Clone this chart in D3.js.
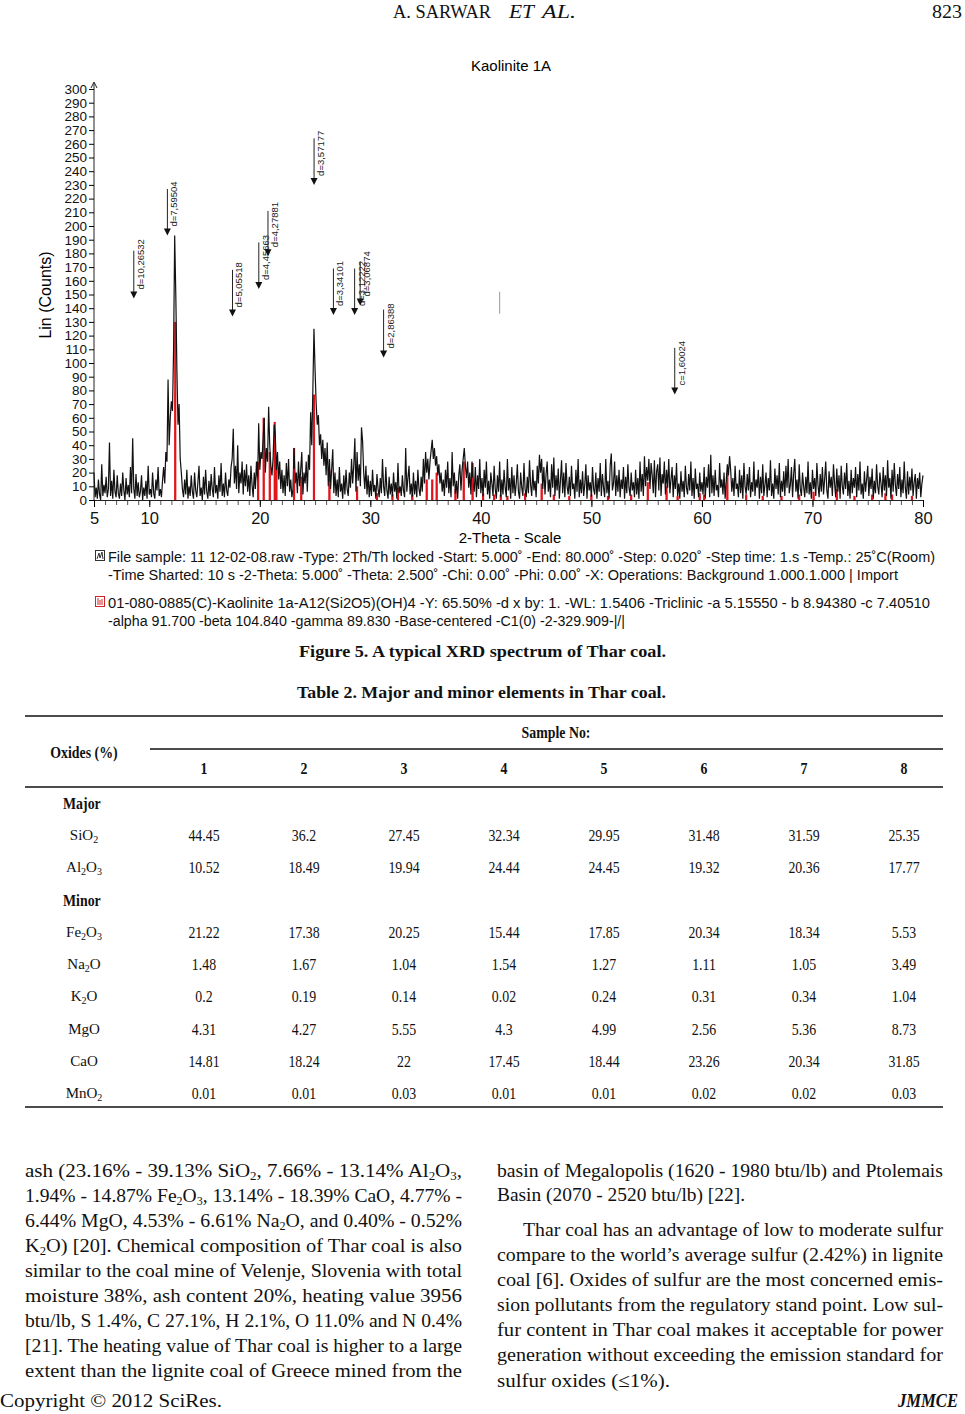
<!DOCTYPE html>
<html>
<head>
<meta charset="utf-8">
<script src="https://cdn.jsdelivr.net/npm/d3@7"></script>
<style>
	body { margin:0; background:#fff; }
	svg { display:block; }
</style>
</head>
<body>
<script>

	// ---- chart data (counts every 0.1 deg, 5 .. 80)
	var two_theta_start = 5, two_theta_step = 0.1;
	var counts = [
		20,2,9,1,15,4,0,26,3,11, 5,17,2,8,42,3,14,1,22,6, 2,18,5,1,12,3,20,7,0,16, 4,11,2,24,5,45,8,1,19,3,
		13,2,6,18,0,9,3,14,1,25, 4,8,2,20,5,1,15,7,24,3, 8,2,14,24,12,35,28,88,40,60, 72,65,110,193,150,95,55,70,30,20,
		8,2,15,4,22,1,10,3,18,6, 1,20,7,2,13,25,3,9,0,17, 4,22,6,1,14,3,19,8,2,24, 5,11,1,18,6,27,3,12,2,20,
		7,3,15,9,24,30,52,12,25,8, 40,5,20,12,28,4,22,10,26,6, 18,3,25,11,2,20,8,28,14,56, 22,35,30,45,60,20,38,28,68,40,
		25,18,30,55,48,22,35,15,28,8, 22,5,18,3,27,10,30,6,15,2, 8,38,12,20,5,28,10,22,35,4, 20,12,28,6,33,22,64,40,80,125,
		95,70,55,62,40,48,30,44,25,38, 18,42,10,30,8,22,37,5,20,3, 15,2,24,6,12,1,18,4,22,8, 3,20,9,30,12,25,45,6,35,14,
		26,10,53,43,20,8,25,4,18,2, 14,3,22,6,11,1,19,8,2,16, 5,30,10,3,24,7,1,17,4,12, 2,20,6,13,1,27,5,10,3,18,
		7,2,38,6,16,25,4,12,1,20, 4,14,2,22,8,3,17,6,30,12, 35,20,30,15,28,36,44,30,38,25, 32,18,26,12,20,6,15,3,22,9,
		28,5,16,2,35,10,20,4,14,1, 18,26,7,22,30,38,25,16,28,9, 20,4,28,12,6,24,2,18,8,30, 5,16,2,22,9,28,4,14,1,20,
		12,3,25,8,1,18,6,28,2,15, 4,22,9,2,30,7,16,1,24,5, 18,3,12,26,6,1,20,9,3,27, 8,2,17,5,29,11,3,22,7,14,
		2,25,12,33,20,30,8,24,4,19, 28,6,15,2,26,9,31,3,18,7, 23,1,14,29,5,20,2,27,10,4, 17,3,25,8,12,1,22,6,30,2,
		15,5,21,3,11,26,1,18,7,13, 2,24,8,4,20,1,16,6,27,3, 19,9,2,30,5,14,1,25,34,7, 12,28,3,18,6,22,2,15,8,24,
		1,17,5,26,9,3,20,7,13,2, 22,4,16,1,28,6,19,3,32,10, 24,14,30,8,27,18,5,29,2,21, 26,7,31,3,19,12,28,4,22,9,
		30,5,15,24,2,18,8,27,3,12, 1,21,6,14,2,25,9,4,19,7, 28,3,16,1,23,8,12,2,20,6, 13,4,24,1,17,9,26,2,33,5,
		18,3,22,7,11,2,27,9,15,4, 20,1,14,26,18,32,22,6,16,3, 25,8,12,2,22,5,18,1,27,10, 4,19,7,24,2,13,6,28,3,15,
		9,22,1,17,5,26,3,11,20,2, 16,7,29,3,12,1,23,8,18,4, 27,2,14,6,21,3,25,9,30,5, 11,24,2,19,30,6,15,1,26,8,
		3,20,10,2,17,5,28,4,13,1, 22,8,16,3,27,11,2,19,6,24, 4,15,28,7,1,21,9,17,3,26, 12,2,23,6,18,1,25,10,4,20,
		8,27,3,14,1,22,5,16,9,24, 2,19,7,28,4,12,1,21,6,15, 25,3,17,8,23,1,14,5,26,10, 4,20,12,2,24,7,18,3,29,9,
		16,1,22,6,27,11,3,19,8,24, 2,15,5,28,9,1,21,4,17,7, 23,3,13,19,1,16,8,20,2,12, 18
	];

	// reference pattern (kaolinite sticks, red)
	var ref_theta  = [12.35, 19.85, 20.35, 20.9, 21.35, 21.5, 23.1, 23.75, 24.9, 26.3, 28.8, 30.6, 32.0, 32.5, 33.8, 35.1, 35.6, 36.0, 37.7,
		38.45, 39.25, 40.2, 41.2, 41.8, 42.4, 44.0, 45.5, 46.6, 48.0, 50.0, 51.5, 53.6, 55.1, 56.8, 57.8, 59.8, 60.2, 62.3, 64.0,
		65.5, 67.2, 68.8, 70.1, 72.2, 73.8, 75.4, 76.6, 77.2, 79.0];
	var ref_counts = [130, 28, 60, 35, 57, 30, 38, 17, 77, 22, 10, 5, 4, 9, 4, 15, 15, 20, 8,
		28, 27, 5, 4, 4, 3, 5, 12, 4, 3, 4, 3, 4, 13, 10, 3, 5, 4, 20, 4,
		3, 3, 4, 6, 8, 3, 4, 5, 4, 3];

	// peak markers: label, 2-theta, arrow top (counts), arrow tip (counts)
	var marker_labels = ["d=10,26532", "d=7,59504", "d=5,05518", "d=4,45663", "d=4,27881", "d=3,57177", "d=3,34101", "d=3,12222", "d=3,06874", "d=2,86388", "c=1,60024"];
	var marker_theta  = [8.6, 11.64, 17.53, 19.91, 20.74, 24.91, 26.66, 28.58, 29.08, 31.2, 57.54];
	var marker_top    = [182, 227, 168, 188, 211, 264, 169, 169, 174, 139, 111];
	var marker_tip    = [147, 193, 134, 154, 178, 230, 135, 135, 142, 104, 77];

	var y_ticks = d3.range(0, 301, 10);
	var x_ticks = [5, 10, 20, 30, 40, 50, 60, 70, 80];

	var legend_lines = [
		"File sample: 11 12-02-08.raw -Type:  2Th/Th locked -Start: 5.000˚ -End: 80.000˚ -Step: 0.020˚ -Step time: 1.s -Temp.: 25˚C(Room)",
		"-Time Sharted: 10 s -2-Theta: 5.000˚ -Theta: 2.500˚ -Chi: 0.00˚  -Phi: 0.00˚ -X: Operations: Background 1.000.1.000 | Import",
		"01-080-0885(C)-Kaolinite 1a-A12(Si2O5)(OH)4 -Y: 65.50% -d x by: 1. -WL: 1.5406 -Triclinic -a 5.15550 - b 8.94380 -c 7.40510",
		"-alpha 91.700 -beta 104.840 -gamma 89.830 -Base-centered -C1(0) -2-329.909-|/|"
	];

	// ---- table data
	var sample_nos = [1, 2, 3, 4, 5, 6, 7, 8];
	var major_oxides = ["SiO_{2}", "Al_{2}O_{3}"];
	var major_values = [
		[44.45, 36.2, 27.45, 32.34, 29.95, 31.48, 31.59, 25.35],
		[10.52, 18.49, 19.94, 24.44, 24.45, 19.32, 20.36, 17.77]
	];
	var minor_oxides = ["Fe_{2}O_{3}", "Na_{2}O", "K_{2}O", "MgO", "CaO", "MnO_{2}"];
	var minor_values = [
		[21.22, 17.38, 20.25, 15.44, 17.85, 20.34, 18.34, 5.53],
		[1.48, 1.67, 1.04, 1.54, 1.27, 1.11, 1.05, 3.49],
		[0.2, 0.19, 0.14, 0.02, 0.24, 0.31, 0.34, 1.04],
		[4.31, 4.27, 5.55, 4.3, 4.99, 2.56, 5.36, 8.73],
		[14.81, 18.24, 22, 17.45, 18.44, 23.26, 20.34, 31.85],
		[0.01, 0.01, 0.03, 0.01, 0.01, 0.02, 0.02, 0.03]
	];

	// ---- body text
	var left_lines = [
		"ash  (23.16% - 39.13% SiO_{2}, 7.66% - 13.14% Al_{2}O_{3},",
		"1.94% - 14.87% Fe_{2}O_{3}, 13.14% - 18.39% CaO, 4.77% -",
		"6.44% MgO, 4.53% - 6.61% Na_{2}O, and 0.40% - 0.52%",
		"K_{2}O) [20]. Chemical composition of Thar coal is also",
		"similar to the coal mine of Velenje, Slovenia with total",
		"moisture 38%, ash content 20%, heating value 3956",
		"btu/lb, S 1.4%, C 27.1%, H 2.1%, O 11.0% and N 0.4%",
		"[21]. The heating value of Thar coal is higher to a large",
		"extent than the lignite coal of Greece mined from the"
	];
	var right_lines = [
		"basin of Megalopolis (1620 - 1980 btu/lb) and Ptolemais",
		"Basin (2070 - 2520 btu/lb) [22].",
		"Thar coal has an advantage of low to moderate sulfur",
		"compare to the world’s average sulfur (2.42%) in lignite",
		"coal [6]. Oxides of sulfur are the most concerned emis-",
		"sion pollutants from the regulatory stand point. Low sul-",
		"fur content in Thar coal makes it acceptable for power",
		"generation without exceeding the emission standard for",
		"sulfur oxides (≤1%)."
	];


	var page = (function(){

		var svg = d3.select("body").append("svg").attr("width", 965).attr("height", 1414);
		var sans = "'Liberation Sans', Arial, sans-serif";
		var serif = "'Liberation Serif', 'Times New Roman', serif";

		// writes "X_{2}" style strings as text with lowered subscripts
		function rich(text_sel, str, sub_size, drop){
			var parts = str.split(/(_\{[^}]*\})/);
			var lowered = false;
			drop = drop || 4;
			parts.forEach(function(p){
				if(!p){ return; }
				var m = p.match(/^_\{([^}]*)\}$/);
				var t = text_sel.append("tspan");
				if(m){
					t.text(m[1]).attr("font-size", sub_size).attr("dy", lowered ? 0 : drop);
					lowered = true;
				} else {
					t.text(p).attr("dy", lowered ? -drop : 0);
					lowered = false;
				}
			});
			return text_sel;
		}

		// narrow the glyphs of a text to look like the condensed print face
		function condense(text_sel, factor){
			text_sel.each(function(){
				var w = this.getComputedTextLength();
				d3.select(this).attr("textLength", w * factor).attr("lengthAdjust", "spacingAndGlyphs");
			});
			return text_sel;
		}

		function header(){
			var g = svg.append("g").attr("font-family", serif).attr("font-size", 18).attr("fill", "#111");
			g.append("text").attr("x", 393).attr("y", 18).attr("textLength", 98).attr("lengthAdjust", "spacingAndGlyphs").text("A. SARWAR");
			g.append("text").attr("x", 509).attr("y", 18).attr("font-style", "italic").attr("textLength", 25).attr("lengthAdjust", "spacingAndGlyphs").text("ET");
			g.append("text").attr("x", 542).attr("y", 18).attr("font-style", "italic").attr("textLength", 34).attr("lengthAdjust", "spacingAndGlyphs").text("AL.");
			g.append("text").attr("x", 962).attr("y", 18).attr("text-anchor", "end").attr("textLength", 30).attr("lengthAdjust", "spacingAndGlyphs").text("823");
		}

		function chart(){
			var x = d3.scaleLinear().domain([5, 80]).range([94, 923]);
			var y = d3.scaleLinear().domain([0, 300]).range([500, 89]);
			var g = svg.append("g").attr("font-family", sans);

			g.append("text").attr("x", 511).attr("y", 71).attr("text-anchor", "middle").attr("font-size", 15).text("Kaolinite 1A");

			// reference sticks under the scan
			g.append("g").selectAll("line").data(ref_theta).enter().append("line")
				.attr("x1", function(d){ return x(d); }).attr("x2", function(d){ return x(d); })
				.attr("y1", y(0)).attr("y2", function(d, i){ return y(ref_counts[i]); })
				.attr("stroke", "#e3141c").attr("stroke-width", 2.2);

			var line = d3.line()
				.x(function(d, i){ return x(two_theta_start + i * two_theta_step); })
				.y(function(d){ return y(d); });
			g.append("path").datum(counts).attr("d", line)
				.attr("fill", "none").attr("stroke", "#111").attr("stroke-width", 1.2).attr("stroke-linejoin", "miter");

			// red sticks drawn again lightly on top so they show through the noise
			g.append("g").selectAll("line").data(ref_theta).enter().append("line")
				.attr("x1", function(d){ return x(d); }).attr("x2", function(d){ return x(d); })
				.attr("y1", y(0)).attr("y2", function(d, i){ return y(ref_counts[i] * 0.6); })
				.attr("stroke", "#e3141c").attr("stroke-width", 1.4);

			// axes
			var y_axis = d3.axisLeft(y).tickValues(y_ticks).tickSize(5).tickSizeOuter(0).tickPadding(2);
			var ya = g.append("g").attr("transform", "translate(94,0)").call(y_axis);
			ya.select(".domain").attr("d", "M0,500V83").attr("stroke", "#222");
			ya.selectAll("text").attr("font-size", 13.5).attr("font-family", sans).attr("fill", "#111");
			g.append("path").attr("d", "M91,88L94,82L97,88").attr("fill", "none").attr("stroke", "#222");

			var x_minor = d3.axisBottom(x).tickValues(d3.range(5, 81, 1)).tickSize(5).tickSizeOuter(0).tickFormat("");
			g.append("g").attr("transform", "translate(0,500)").call(x_minor)
				.selectAll(".tick line").attr("stroke", "#555");
			var x_axis = d3.axisBottom(x).tickValues(x_ticks).tickSize(7).tickSizeOuter(0).tickPadding(5);
			var xa = g.append("g").attr("transform", "translate(0,500)").call(x_axis);
			xa.select(".domain").attr("stroke", "#222");
			xa.selectAll("text").attr("font-size", 16.5).attr("font-family", sans).attr("fill", "#111");

			g.append("text").attr("x", 510).attr("y", 543).attr("text-anchor", "middle").attr("font-size", 15).text("2-Theta - Scale");
			g.append("text").attr("transform", "translate(51,295) rotate(-90)").attr("text-anchor", "middle").attr("font-size", 16).text("Lin (Counts)");

			// peak markers
			var mk = g.append("g").selectAll("g").data(marker_labels).enter().append("g");
			mk.append("line")
				.attr("x1", function(d, i){ return x(marker_theta[i]); }).attr("x2", function(d, i){ return x(marker_theta[i]); })
				.attr("y1", function(d, i){ return y(marker_top[i]); }).attr("y2", function(d, i){ return y(marker_tip[i]) - 5; })
				.attr("stroke", "#222").attr("stroke-width", 1);
			mk.append("path")
				.attr("d", function(d, i){
					var sx = x(marker_theta[i]), ty = y(marker_tip[i]);
					return "M" + (sx - 3.5) + "," + (ty - 7) + "L" + (sx + 3.5) + "," + (ty - 7) + "L" + sx + "," + ty + "Z";
				})
				.attr("fill", "#111");
			mk.append("text")
				.attr("transform", function(d, i){ return "translate(" + (x(marker_theta[i]) + 10) + "," + (y(marker_tip[i]) - 9) + ") rotate(-90)"; })
				.attr("font-size", 9.5).attr("fill", "#222").text(function(d){ return d; });
			// stray marker without label near 41.7
			g.append("line").attr("x1", x(41.7)).attr("x2", x(41.7)).attr("y1", y(152)).attr("y2", y(136)).attr("stroke", "#999");

			// legend
			var lg = g.append("g").attr("font-size", 14).attr("fill", "#111");
			var ly = [562, 580, 608, 626], lw = [827, 790, 822, 517];
			lg.selectAll("text").data(legend_lines).enter().append("text")
				.attr("x", 108).attr("y", function(d, i){ return ly[i]; })
				.attr("textLength", function(d, i){ return lw[i]; }).attr("lengthAdjust", "spacingAndGlyphs")
				.text(function(d){ return d; });
			lg.append("rect").attr("x", 95.5).attr("y", 550.5).attr("width", 9).attr("height", 10).attr("fill", "#fff").attr("stroke", "#333");
			lg.append("path").attr("d", "M97,559L99,553L100,558L102,552L103,559").attr("fill", "none").attr("stroke", "#333");
			lg.append("rect").attr("x", 95.5).attr("y", 596.5).attr("width", 9).attr("height", 10).attr("fill", "#fff").attr("stroke", "#d0242a");
			lg.append("path").attr("d", "M98,598V605M100,600V605M102,599V605").attr("stroke", "#d0242a");
		}

		function captions(){
			var g = svg.append("g").attr("font-family", serif).attr("font-weight", "bold").attr("font-size", 16.5).attr("fill", "#111");
			g.append("text").attr("x", 299).attr("y", 657).attr("textLength", 367).attr("lengthAdjust", "spacingAndGlyphs").text("Figure 5. A typical XRD spectrum of Thar coal.");
			g.append("text").attr("x", 297).attr("y", 698).attr("textLength", 369).attr("lengthAdjust", "spacingAndGlyphs").text("Table 2. Major and minor elements in Thar coal.");
		}

		function table(){
			var g = svg.append("g").attr("font-family", serif).attr("font-size", 16.5).attr("fill", "#111");
			var col = d3.scalePoint().domain(sample_nos).range([204, 904]);
			var row_keys = ["Major"].concat(major_oxides, ["Minor"], minor_oxides);
			var row = d3.scalePoint().domain(row_keys).range([803, 1093]);

			function rule(x1, x2, yy){
				g.append("line").attr("x1", x1).attr("x2", x2).attr("y1", yy).attr("y2", yy).attr("stroke", "#111").attr("stroke-width", 1.5);
			}
			rule(25, 943, 716); rule(150, 943, 749); rule(25, 943, 787); rule(25, 943, 1107);

			condense(g.append("text").attr("x", 84).attr("y", 758).attr("text-anchor", "middle").attr("font-weight", "bold").text("Oxides (%)"), 0.84);
			condense(g.append("text").attr("x", 556).attr("y", 738).attr("text-anchor", "middle").attr("font-weight", "bold").text("Sample No:"), 0.84);
			condense(g.selectAll("text.hd").data(sample_nos).enter().append("text").attr("class", "hd")
				.attr("x", function(d){ return col(d); }).attr("y", 774).attr("text-anchor", "middle").attr("font-weight", "bold")
				.text(function(d){ return d; }), 0.84);

			["Major", "Minor"].forEach(function(k){
				condense(g.append("text").attr("x", 63).attr("y", row(k) + 6).attr("font-weight", "bold").text(k), 0.84);
			});

			function body_rows(oxides, values){
				oxides.forEach(function(ox, r){
					rich(g.append("text").attr("x", 84).attr("y", row(ox) + 5).attr("text-anchor", "middle").attr("font-size", 15), ox, 10, 3);
					condense(g.selectAll(null).data(values[r]).enter().append("text")
						.attr("x", function(d, i){ return col(sample_nos[i]); }).attr("y", row(ox) + 6).attr("text-anchor", "middle")
						.text(function(d){ return String(d); }), 0.84);
				});
			}
			body_rows(major_oxides, major_values);
			body_rows(minor_oxides, minor_values);
		}

		function body_text(){
			var g = svg.append("g").attr("font-family", serif).attr("font-size", 19.5).attr("fill", "#111");
			left_lines.forEach(function(s, i){
				rich(g.append("text").attr("x", 25).attr("y", 1177 + i * 25)
					.attr("textLength", 437).attr("lengthAdjust", "spacingAndGlyphs"), s, 12, 3);
			});
			var ry = [1177, 1201, 1236, 1261, 1286, 1311, 1336, 1361, 1387];
			var rx = [497, 497, 523, 497, 497, 497, 497, 497, 497];
			var rw = [446, 248, 420, 446, 446, 446, 446, 446, 173];
			right_lines.forEach(function(s, i){
				rich(g.append("text").attr("x", rx[i]).attr("y", ry[i])
					.attr("textLength", rw[i]).attr("lengthAdjust", "spacingAndGlyphs"), s, 12, 3);
			});

			g.append("text").attr("x", 0).attr("y", 1407).attr("font-size", 18).attr("textLength", 222).attr("lengthAdjust", "spacingAndGlyphs").text("Copyright © 2012 SciRes.");
			g.append("text").attr("x", 958).attr("y", 1407).attr("font-size", 18).attr("text-anchor", "end")
				.attr("font-weight", "bold").attr("font-style", "italic").attr("textLength", 60).attr("lengthAdjust", "spacingAndGlyphs").text("JMMCE");
		}

		header();
		chart();
		captions();
		table();
		body_text();

		return null;
	})();

</script>
</body>
</html>
